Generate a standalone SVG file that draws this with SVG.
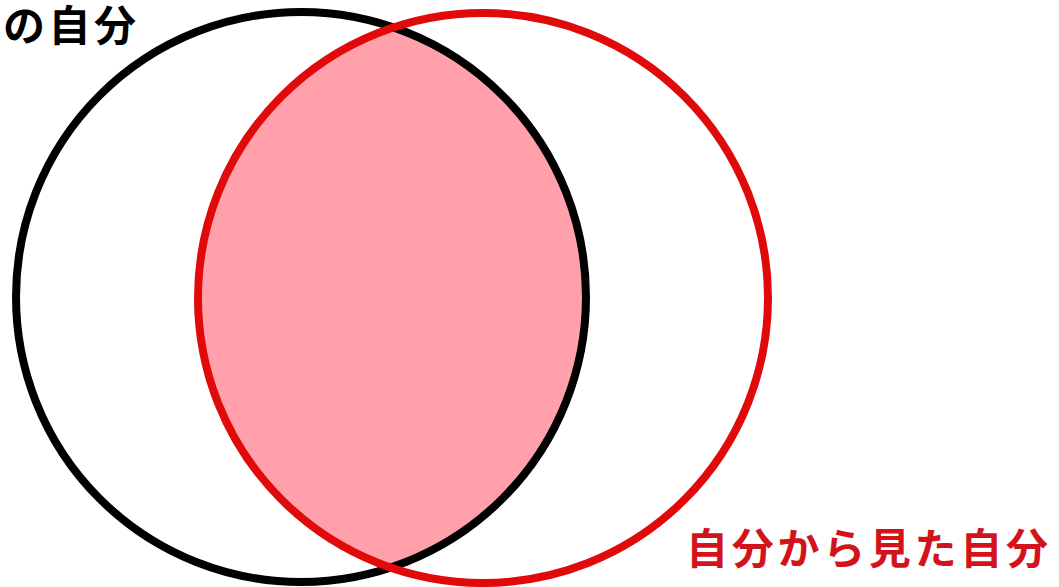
<svg xmlns="http://www.w3.org/2000/svg" width="1059" height="587" viewBox="0 0 1059 587">
<style>
.ring{fill:none;stroke-width:8}
.lbl{font-family:"Noto Sans CJK JP","Noto Sans CJK SC",sans-serif;font-weight:700;font-size:42px}
</style>
<defs>
<clipPath id="clipBlack"><circle cx="301" cy="297" r="285"/></clipPath>
</defs>
<rect width="1059" height="587" fill="#ffffff"/>
<g id="overlap">
<circle cx="483" cy="298" r="285" fill="#ffa0ab" clip-path="url(#clipBlack)"/>
</g>
<g id="blackCircle">
<circle class="ring" cx="301" cy="297" r="285" stroke="#000000"/>
</g>
<g id="redCircle">
<circle class="ring" cx="483" cy="298" r="285" stroke="#e00a0a"/>
</g>
<g id="labelBlack">
<text class="lbl" x="3" y="41" fill="#000000" textLength="133" lengthAdjust="spacing">の自分</text>
</g>
<g id="labelRed">
<text class="lbl" x="686" y="564" fill="#d3131b" textLength="362" lengthAdjust="spacing">自分から見た自分</text>
</g>
</svg>
